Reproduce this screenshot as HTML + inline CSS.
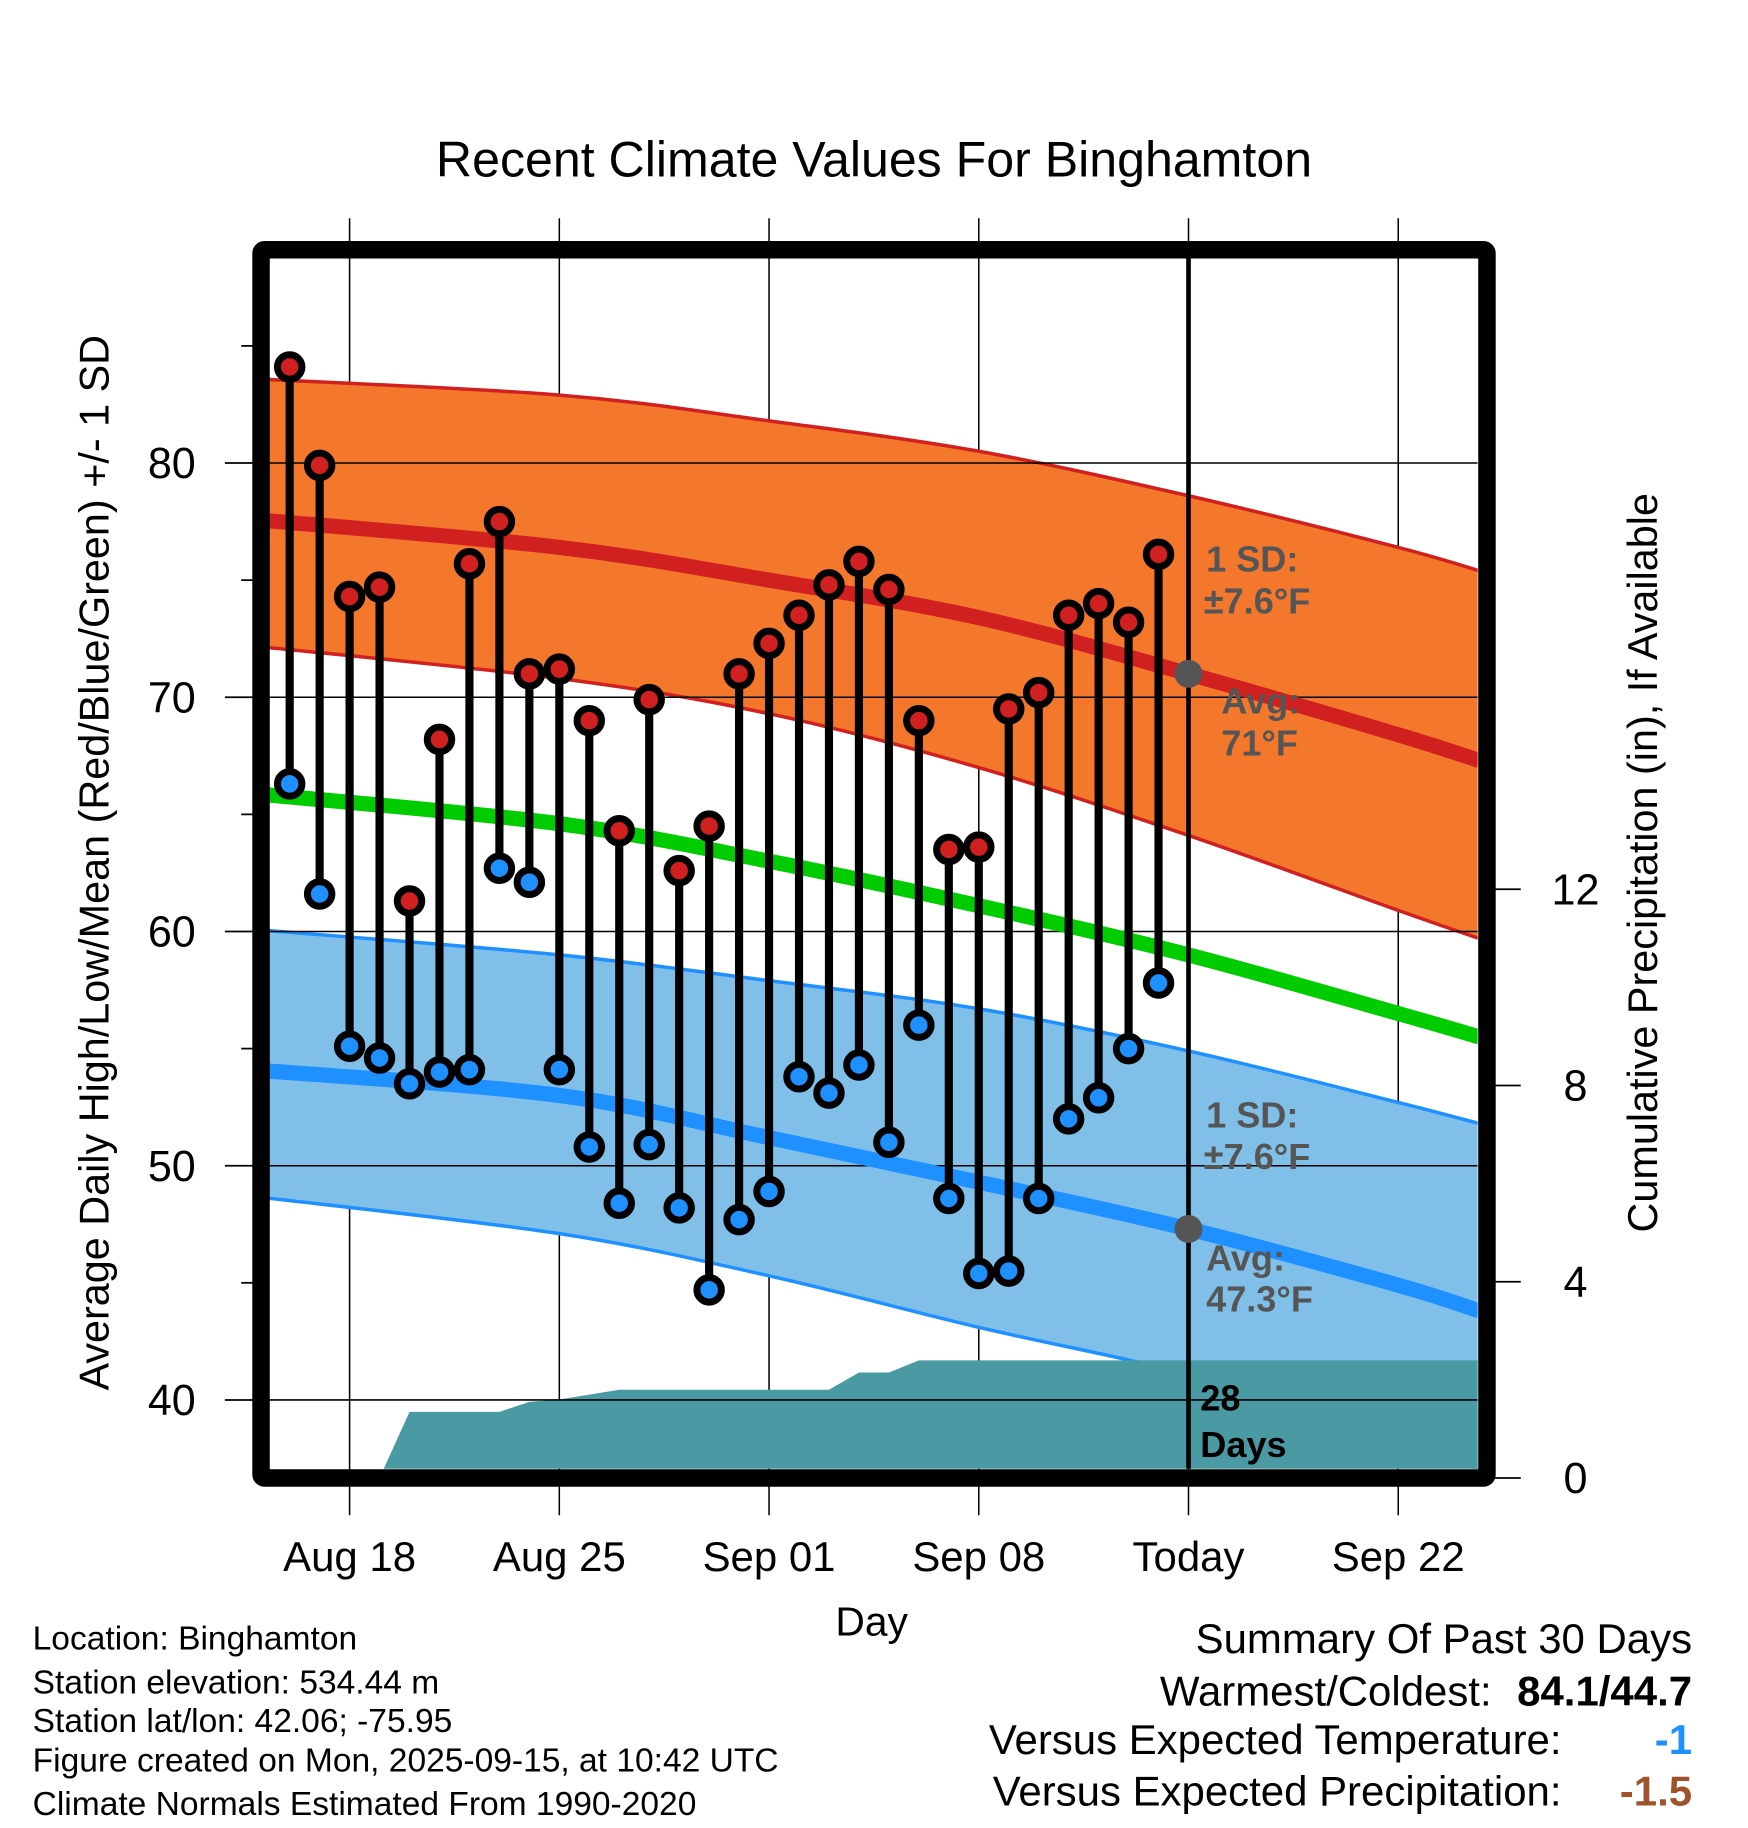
<!DOCTYPE html>
<html><head><meta charset="utf-8"><style>
html,body{margin:0;padding:0;background:#fff;}
svg{display:block;font-family:"Liberation Sans",Arial,sans-serif;}
</style></head><body>
<svg id="chart" width="1748" height="1828" viewBox="0 0 1500 1568" xmlns="http://www.w3.org/2000/svg">
<defs><clipPath id="plotclip"><rect x="231" y="221" width="1037" height="1039"/></clipPath></defs>
<text x="750" y="151" font-size="43" text-anchor="middle">Recent Climate Values For Binghamton</text>
<g id="plot" clip-path="url(#plotclip)"></g>
<g id="axes"></g>
<text transform="translate(93,740) rotate(-90)" font-size="35.5" text-anchor="middle">Average Daily High/Low/Mean (Red/Blue/Green) +/- 1 SD</text>
<text transform="translate(1422,740) rotate(-90)" font-size="35.5" text-anchor="middle">Cumulative Precipitation (in), If Available</text>
<text x="748" y="1403" font-size="35" text-anchor="middle">Day</text>
<g font-size="28.8">
<text x="28" y="1415">Location: Binghamton</text>
<text x="28" y="1453">Station elevation: 534.44 m</text>
<text x="28" y="1486">Station lat/lon: 42.06; -75.95</text>
<text x="28" y="1520">Figure created on Mon, 2025-09-15, at 10:42 UTC</text>
<text x="28" y="1557">Climate Normals Estimated From 1990-2020</text>
</g>
<g font-size="36">
<text x="1452" y="1418" text-anchor="end">Summary Of Past 30 Days</text>
<text x="1280" y="1463" text-anchor="end">Warmest/Coldest:</text>
<text x="1452" y="1463" text-anchor="end" font-weight="bold">84.1/44.7</text>
<text x="1340" y="1505" text-anchor="end">Versus Expected Temperature:</text>
<text x="1452" y="1505" text-anchor="end" font-weight="bold" fill="#1e90ff">-1</text>
<text x="1340" y="1549" text-anchor="end">Versus Expected Precipitation:</text>
<text x="1452" y="1549" text-anchor="end" font-weight="bold" fill="#a0522d">-1.5</text>
</g>
</svg>
<script>
// day index: 0 = Aug 18, 28 = Sep 15 (Today)
const days = [-2,-1,0,1,2,3,4,5,6,7,8,9,10,11,12,13,14,15,16,17,18,19,20,21,22,23,24,25,26,27];
const highs = [84.1,79.9,74.3,74.7,61.3,68.2,75.7,77.5,71.0,71.2,69.0,64.3,69.9,62.6,64.5,71.0,72.3,73.5,74.8,75.8,74.6,69.0,63.5,63.6,69.5,70.2,73.5,74.0,73.2,76.1];
const lows = [66.3,61.6,55.1,54.6,53.5,54.0,54.1,62.7,62.1,54.1,50.8,48.4,50.9,48.2,44.7,47.7,48.9,53.8,53.1,54.3,51.0,56.0,48.6,45.4,45.5,48.6,52.0,52.9,55.0,57.8];
const precipCum = [0,0,0,0,1.35,1.35,1.35,1.35,1.55,1.6,1.7,1.8,1.8,1.8,1.8,1.8,1.8,1.8,1.8,2.15,2.15,2.4,2.4,2.4,2.4,2.4,2.4,2.4,2.4,2.4];
const normDays = [-3.3,7,14,21,28,35,37.7];
const normHigh = [77.6,76.4,75.0,73.4,71.0,68.4,67.3];
const normHighUp = [83.6,82.9,81.8,80.5,78.6,76.4,75.4];
const normHighLo = [72.2,70.8,69.3,67.0,64.1,60.9,59.7];
const normMean = [65.9,64.6,63.0,61.1,59.0,56.5,55.5];
const normLow = [54.1,53.0,51.2,49.3,47.3,44.9,43.8];
const normLowUp = [60.1,59.0,57.9,56.7,54.9,52.7,51.8];
const normLowLo = [48.7,47.1,45.3,43.1,41.1,38.5,37.0];
const yTicks = [40,50,60,70,80];
const yMinor = [45,55,65,75,85];
const y2Ticks = [0,4,8,12];
const xTickDays = [0,7,14,21,28,35];
const xTickLabels = ["Aug 18","Aug 25","Sep 01","Sep 08","Today","Sep 22"];

const X = d => 300 + d*25.71;
const Y = v => 397 + (80-v)*20.1;
const Y2 = p => 1268 - p*42.1;
const NS="http://www.w3.org/2000/svg";
function mk(parent,tag,attrs){const e=document.createElementNS(NS,tag);for(const k in attrs)e.setAttribute(k,attrs[k]);parent.appendChild(e);return e;}
const plot=document.getElementById('plot'), axes=document.getElementById('axes'), svg=document.getElementById('chart');
function pts(xs,ys){return xs.map((d,i)=>[X(d),ys[i]]);}
function smooth(p,startCmd){
  let d=(startCmd||'M')+p[0][0].toFixed(1)+','+p[0][1].toFixed(1);
  for(let i=0;i<p.length-1;i++){
    const p0=p[Math.max(0,i-1)],p1=p[i],p2=p[i+1],p3=p[Math.min(p.length-1,i+2)];
    const c1=[p1[0]+(p2[0]-p0[0])/6,p1[1]+(p2[1]-p0[1])/6];
    const c2=[p2[0]-(p3[0]-p1[0])/6,p2[1]-(p3[1]-p1[1])/6];
    d+='C'+c1.map(v=>v.toFixed(1)).join(',')+' '+c2.map(v=>v.toFixed(1)).join(',')+' '+p2.map(v=>v.toFixed(1)).join(',');
  }
  return d;
}
function band(up,lo,name,fill,edge){
  const pu=pts(normDays,up.map(Y)), pl=pts(normDays,lo.map(Y)).reverse();
  const d=smooth(pu)+smooth(pl,'L')+'Z';
  const p=mk(plot,'path',{d:d,fill:fill});
  
  
  const a=mk(plot,'path',{d:smooth(pu),fill:'none',stroke:edge,'stroke-width':3});
  
  
  const b=mk(plot,'path',{d:smooth(pl),fill:'none',stroke:edge,'stroke-width':3});
  
  
}
band(normHighUp,normHighLo,'high-sd-band','#f4782c','#d02020');
band(normLowUp,normLowLo,'low-sd-band','#80c0e8','#1e90ff');
{
  let d='M'+X(days[0])+','+Y2(0);
  days.forEach((dd,i)=>{d+='L'+X(dd).toFixed(1)+','+Y2(precipCum[i]).toFixed(1);});
  d+='L1270,'+Y2(precipCum[precipCum.length-1]).toFixed(1)+'L1270,1270L'+X(days[0])+',1270Z';
  const p=mk(plot,'path',{d:d,fill:'#4a9aa3'});
  
  
}
yTicks.forEach(v=>{const g=mk(plot,'line',{x1:231,x2:1268,y1:Y(v),y2:Y(v),stroke:'#000','stroke-width':1.3});

});
xTickDays.forEach(d=>{const g=mk(svg,'line',{x1:X(d),x2:X(d),y1:187,y2:1300,stroke:'#000','stroke-width':1.3});


svg.insertBefore(g,plot);});
[[normHigh,'#d02020','high-normal-line'],[normMean,'#00cc00','mean-normal-line'],[normLow,'#1e90ff','low-normal-line']].forEach(([arr,c,n])=>{
  const p=mk(plot,'path',{d:smooth(pts(normDays,arr.map(Y))),fill:'none',stroke:c,'stroke-width':13});
  
  
});
const lab=[["1 SD:",1035,490,'#555'],["±7.6°F",1033,526,'#555'],["Avg:",1048,612,'#555'],["71°F",1048,648,'#555'],
["1 SD:",1035,967,'#555'],["±7.6°F",1033,1003,'#555'],["Avg:",1035,1090,'#555'],["47.3°F",1035,1125,'#555'],["28",1030,1210,'#000'],["Days",1030,1250,'#000']];
lab.forEach(([t,x,y,c])=>{const e=mk(plot,'text',{x:x,y:y,fill:c,'font-size':31,'font-weight':'bold'});e.textContent=t;

});
{const t=mk(plot,'line',{x1:X(28),x2:X(28),y1:221,y2:1262,stroke:'#000','stroke-width':4});

}
[[normHigh[4]],[normLow[4]]].forEach(([v])=>{const c=mk(plot,'circle',{cx:X(28),cy:Y(v),r:12,fill:'#555'});

});
days.forEach((d,i)=>{
  const s=mk(plot,'line',{x1:X(d),x2:X(d),y1:Y(highs[i]),y2:Y(lows[i]),stroke:'#000','stroke-width':7});
  
  
});
days.forEach((d,i)=>{
  const h=mk(plot,'circle',{cx:X(d),cy:Y(highs[i]),r:10.5,fill:'#d02020',stroke:'#000','stroke-width':6});
  
  
  const l=mk(plot,'circle',{cx:X(d),cy:Y(lows[i]),r:10.5,fill:'#1e90ff',stroke:'#000','stroke-width':6});
  
  
});
{const f=mk(axes,'rect',{x:224,y:214,width:1052,height:1054,fill:'none',stroke:'#000','stroke-width':15,rx:3});

}
yTicks.forEach(v=>{
  const t=mk(axes,'line',{x1:193,x2:217,y1:Y(v),y2:Y(v),stroke:'#000','stroke-width':1.5});
  
  
  const e=mk(axes,'text',{x:168,y:Y(v)+13,'font-size':37,'text-anchor':'end'});e.textContent=v;
  
  
});
yMinor.forEach(v=>{const t=mk(axes,'line',{x1:207,x2:217,y1:Y(v),y2:Y(v),stroke:'#000','stroke-width':1.5});

});
y2Ticks.forEach(p=>{
  const t=mk(axes,'line',{x1:1283,x2:1305,y1:Y2(p),y2:Y2(p),stroke:'#000','stroke-width':1.5});
  
  
  const e=mk(axes,'text',{x:1352,y:Y2(p)+13,'font-size':37,'text-anchor':'middle'});e.textContent=p;
  
  
});
xTickDays.forEach((d,i)=>{
  const e=mk(axes,'text',{x:X(d),y:1348,'font-size':36,'text-anchor':'middle'});e.textContent=xTickLabels[i];
  
  
});
</script>
</body></html>
